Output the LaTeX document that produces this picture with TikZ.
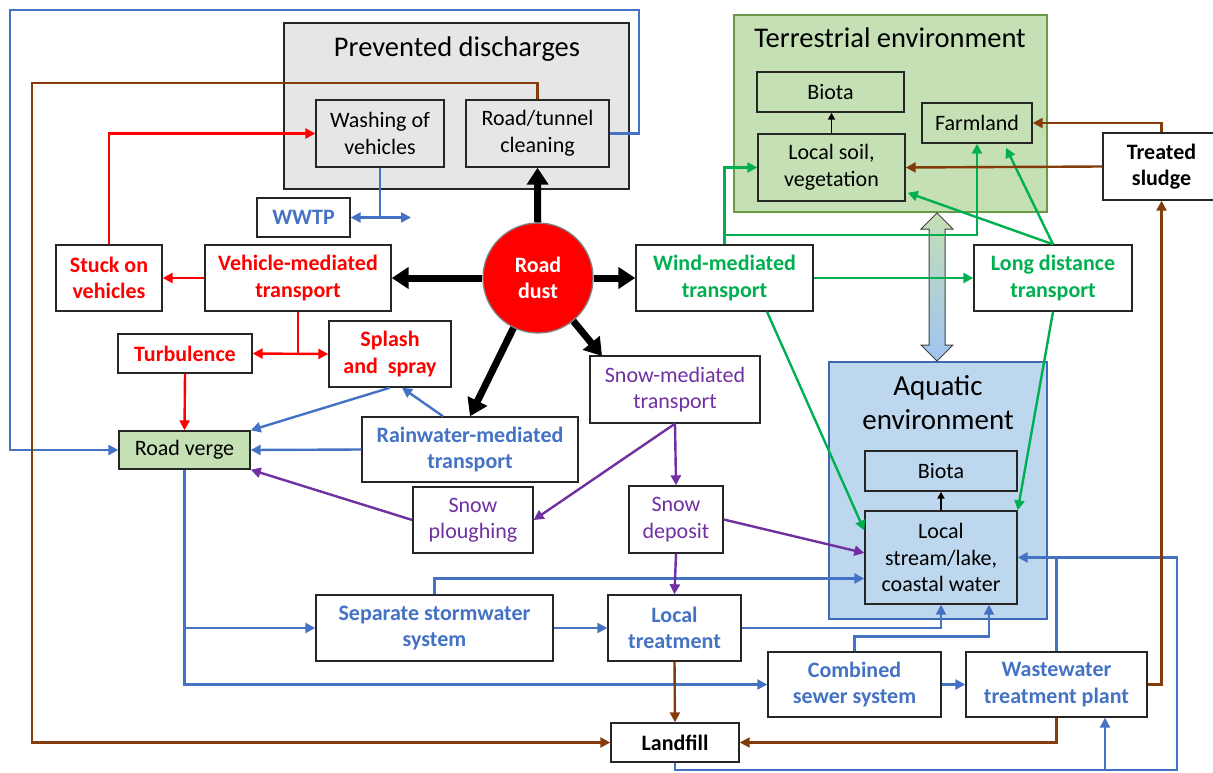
\documentclass[tikz,border=0pt]{standalone}
\usepackage{fontspec}
\setmainfont{Carlito}
\usetikzlibrary{arrows.meta,calc}
\definecolor{cblue}{HTML}{4472C4}
\definecolor{cred}{HTML}{FF0000}
\definecolor{cgreen}{HTML}{00B050}
\definecolor{cpurple}{HTML}{7030A0}
\definecolor{cbrown}{HTML}{843C0C}
\definecolor{cgray}{HTML}{E7E6E6}
\definecolor{lgreen}{HTML}{C5E0B4}
\definecolor{lblue}{HTML}{BDD7EE}
\definecolor{dblue}{HTML}{9FC3F2}
\definecolor{tgborder}{HTML}{6A9A48}
\definecolor{abborder}{HTML}{3F68B5}
\newcommand\fbody{\fontsize{22}{26.5}\selectfont}
\newcommand\ftitle{\fontsize{28.5}{34}\selectfont}
\begin{document}
\begin{tikzpicture}[x=1pt,y=-1pt,
  rect/.style n args={4}{rectangle, minimum width={#3-#1}, minimum height={#4-#2}, at={({(#1+#3)/2},{(#2+#4)/2})}},
  box/.style={draw=black!85, line width=1.4pt, fill=white, inner sep=0pt, align=center, font=\fbody},
  bb/.style={box, font=\fbody\bfseries},
  cont/.style={line width=1.4pt, inner sep=0pt},
  arr/.style={line width=2.4pt, -{Triangle[length=10pt,width=10pt]}},
  arrtwo/.style={line width=2.4pt, {Triangle[length=10pt,width=10pt]}-{Triangle[length=10pt,width=10pt]}},
  plain/.style={line width=2.4pt},
  blk/.style={line width=7pt, -{Triangle[length=17pt,width=21pt]}},
  small/.style={line width=1.8pt, -{Triangle[length=7pt,width=7pt]}}
]
\useasboundingbox (0,0) rectangle (1213,773);

% containers
\node[cont, draw=black!85, fill=cgray, rect={284}{23}{629}{189}] (pd) {};
\node[font=\ftitle, anchor=base] (pdt) at (457,57) {Prevented discharges};
\node[cont, draw=tgborder, fill=lgreen, rect={734}{15}{1047}{212}] (terr) {};
\node[font=\ftitle, anchor=base] (terrt) at (890,48) {Terrestrial environment};
\node[cont, draw=abborder, fill=lblue, rect={829}{362}{1047}{619}] (aqua) {};
\node[font=\fontsize{29}{34}\selectfont, align=center] (aquat) at (938,403) {Aquatic\\environment};

% boxes
\node[box, fill=cgray, rect={316}{100}{444}{167}] (wash) {Washing of\\vehicles};
\node[box, fill=cgray, rect={466}{100}{609}{167}] (clean) {Road/tunnel\\cleaning};
\node[bb, text=cblue, rect={257}{198}{350}{237}] (wwtpa) {WWTP};
\node[bb, text=cred, rect={56}{245}{162}{311}] (stuck) {Stuck on\\vehicles};
\node[bb, text=cred, rect={205}{245}{391}{311}] (vmt) {Vehicle-mediated\\transport};
\node[bb, text=cred, rect={329}{321}{451}{387}] (splash) {Splash\\and\ \ spray};
\node[bb, text=cred, rect={118}{334}{252}{373}] (turb) {Turbulence};
\node[box, fill=lgreen, rect={119}{431}{250}{469}] (verge) {Road verge};
\node[circle, fill=cred, draw=black!50, line width=1.3pt, minimum size=110pt, inner sep=0pt, text=white, align=center, font=\fbody\bfseries] (dust) at (538,278) {Road\\dust};
\node[bb, text=cgreen, rect={636}{245}{813}{311}] (wind) {Wind-mediated\\transport};
\node[box, text=cpurple, rect={590}{356}{760}{423}] (snow) {Snow-mediated\\transport};
\node[bb, text=cblue, rect={362}{417}{578}{482}] (rain) {Rainwater-mediated\\transport};
\node[box, text=cpurple, rect={413}{487}{533}{553}] (plough) {Snow\\ploughing};
\node[box, text=cpurple, rect={629}{486}{723}{553}] (sdep) {Snow\\deposit};
\node[bb, text=cblue, rect={316}{595}{553}{661}] (sep) {Separate stormwater\\system};
\node[bb, text=cblue, rect={608}{595}{741}{661}] (ltr) {Local\\treatment};
\node[bb, text=cblue, rect={768}{652}{941}{717}] (comb) {Combined\\sewer system};
\node[bb, text=cblue, rect={966}{652}{1147}{717}] (wwtp) {Wastewater\\treatment plant};
\node[bb, rect={611}{723}{739}{762}] (landfill) {Landfill};
\node[bb, rect={1103}{133}{1220}{200}] (sludge) {Treated\\sludge};
\node[box, fill=lgreen, rect={757}{72}{904}{112}] (tbiota) {Biota};
\node[box, fill=lgreen, rect={758}{134}{905}{201}] (soil) {Local soil,\\vegetation};
\node[box, fill=lgreen, rect={922}{103}{1032}{143}] (farm) {Farmland};
\node[bb, text=cgreen, rect={974}{245}{1132}{311}] (ldt) {Long distance\\transport};
\node[box, fill=lblue, rect={865}{451}{1017}{491}] (abiota) {Biota};
\node[box, fill=lblue, rect={865}{511}{1017}{604}] (stream) {Local\\stream/lake,\\coastal water};

% big double arrow between environments
\path[draw=black!75, line width=1pt, top color=lgreen, bottom color=dblue] (937,213) -- (953,229) -- (945,229) -- (945,345) -- (953,345) -- (937,361) -- (921,345) -- (929,345) -- (929,229) -- (921,229) -- cycle;

% black arrows from road dust
\coordinate (snowin) at (602,356);
\draw[blk] (dust) -- (clean.south);
\draw[blk] (dust) -- (vmt.east);
\draw[blk] (dust) -- (wind.west);
\draw[blk] (dust) -- (rain.north);
\draw[blk] (dust) -- (snowin);

% red
\coordinate (vsplit) at (vmt.south |- turb.east);
\draw[arr, cred] (vmt.west) -- (stuck.east);
\draw[arr, cred] (stuck.north) |- (wash.west);
\draw[plain, cred] (vmt.south) -- (vsplit);
\draw[arrtwo, cred] (turb.east) -- (splash.west);
\draw[arr, cred] (turb.south) -- (verge.north);

% blue
\coordinate (wsplit) at (wash.south |- wwtpa.east);
\coordinate (wwend) at (411,217.5);
\draw[arr, cblue] (clean.east) -- (639,133.5) -- (639,10) -- (10,10) |- (verge.west);
\draw[plain, cblue] (wash.south) -- (wsplit);
\draw[arrtwo, cblue] (wwtpa.east) -- (wwend);
\draw[arr, cblue] (splash.south) -- (verge.north east);
\draw[arr, cblue] (rain.west) -- (verge.east);
\draw[arr, cblue] ($(rain.north)+(-27,0)$) -- ($(splash.south)+(12,0)$);
\draw[arr, cblue] (verge.south) |- (comb.west);
\draw[arr, cblue] (verge.south |- sep.west) -- (sep.west);
\draw[arr, cblue] (sep.east) -- (ltr.west);
\draw[arr, cblue] ($(sep.north west)+(119,0)$) |- ($(stream.west)+(0,21)$);
\draw[arr, cblue] (ltr.east) -| (stream.south);
\draw[arr, cblue] (comb.north) -- ++(0,-15) -| ($(stream.south)+(48,0)$);
\draw[arr, cblue] (comb.east) -- (wwtp.west);
\draw[arr, cblue] (landfill.south) -- (675,770) -| (1177,557.5) -- (stream.east);
\draw[plain, cblue] (wwtp.north) -- (wwtp.north |- stream.east);
\draw[arr, cblue] ($(wwtp.south)+(48.5,53)$) -- ($(wwtp.south)+(48.5,0)$);

% purple
\draw[arr, cpurple] (snow.south) -- (sdep.north);
\draw[arr, cpurple] (snow.south) -- (plough.east);
\draw[arr, cpurple] (plough.west) -- (verge.south east);
\draw[arr, cpurple] (sdep.east) -- ($(stream.west)+(0,-4.5)$);
\draw[arr, cpurple] (sdep.south) -- (ltr.north);

% green
\coordinate (gsplit) at (724.5,235);
\draw[arr, cgreen] (wind.north) |- (soil.west);
\draw[arr, cgreen] (gsplit) -| (farm.south);
\draw[arr, cgreen] (wind.east) -- (ldt.west);
\draw[arr, cgreen] (ldt.north) -- ($(farm.south)+(29,4)$);
\draw[arr, cgreen] (ldt.north) -- ($(soil.south east)+(2,-9)$);
\draw[arr, cgreen] (ldt.south) -- (stream.north east);
\draw[arr, cgreen] ($(wind.south)+(42.5,0)$) -- ($(stream.west)+(0,-27)$);

% brown
\coordinate (btop) at (537.5,83);
\draw[arr, cbrown] (clean.north) -- (btop) -- (32,83) |- (landfill.west);
\draw[arr, cbrown] (ltr.south) -- (landfill.north);
\draw[arr, cbrown] (wwtp.south) |- (landfill.east);
\draw[arr, cbrown] (wwtp.east) -| (sludge.south);
\draw[arr, cbrown] (sludge.north) |- (farm.east);
\draw[arr, cbrown] (sludge.west) -- (soil.east);

% small black
\draw[small] (soil.north) -- (soil.north |- tbiota.south);
\draw[small] (stream.north) -- (abiota.south);
\end{tikzpicture}
\end{document}
